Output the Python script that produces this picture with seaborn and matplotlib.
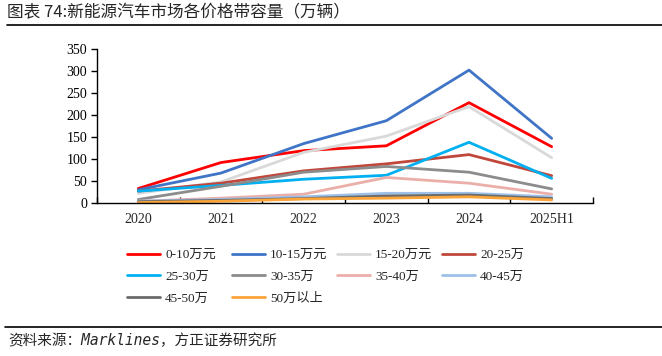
import pandas as pd
import seaborn as sns
import matplotlib.pyplot as plt
from matplotlib.lines import Line2D
from matplotlib.ticker import MultipleLocator, FixedLocator

# --- data (万辆) ---
years = ["2020", "2021", "2022", "2023", "2024", "2025H1"]
bands = ["0-10万元", "10-15万元", "15-20万元", "20-25万", "25-30万",
         "30-35万", "35-40万", "40-45万", "45-50万", "50万以上"]
p0_10 = [33, 92, 119, 130, 228, 128]
p10_15 = [30, 68, 135, 187, 302, 147]
p15_20 = [22, 48, 115, 152, 219, 103]
p20_25 = [27, 45, 73, 89, 110, 62]
p25_30 = [27, 40, 54, 63, 138, 56]
p30_35 = [8, 38, 70, 83, 70, 32]
p35_40 = [4, 11, 20, 58, 45, 20]
p40_45 = [4, 8, 14, 22, 22, 14]
p45_50 = [3, 6, 10, 16, 18, 10]
p50_up = [1, 4, 9, 11, 14, 7]
colors = ["#FF0000", "#3F74C6", "#D9D9D9", "#C0473A", "#00B0F0",
          "#8C8C8C", "#EBAFAA", "#9DC0E8", "#6B6B6B", "#FAA43A"]

series = [p0_10, p10_15, p15_20, p20_25, p25_30, p30_35, p35_40, p40_45, p45_50, p50_up]
df = pd.DataFrame({b: v for b, v in zip(bands, series)}, index=years)
df.index.name = "year"
long_df = df.reset_index().melt(id_vars="year", var_name="band", value_name="value")

sns.set_style("ticks")
plt.rcParams['font.family'] = ['Liberation Serif', 'Noto Sans CJK SC']

fig = plt.figure(figsize=(6.62, 3.56), dpi=100)
ax = fig.add_axes([97 / 662, 1 - 203 / 356, 496 / 662, 154 / 356])

sns.lineplot(data=long_df, x="year", y="value", hue="band", hue_order=bands,
             palette=colors, linewidth=2.0, sort=False, ax=ax)

ax.set_xlim(-0.5, 5.5)
ax.set_ylim(0, 350)
ax.yaxis.set_major_locator(MultipleLocator(50))
ax.set_xlabel("")
ax.set_ylabel("")
for s in ["top", "right"]:
    ax.spines[s].set_visible(False)
for s in ["left", "bottom"]:
    ax.spines[s].set_color("black")
    ax.spines[s].set_linewidth(1.0)
ax.tick_params(axis="y", direction="out", length=4, width=1, colors="black",
               labelsize=10, pad=3)
ax.tick_params(axis="x", which="major", length=0, labelsize=10, pad=7)
ax.xaxis.set_minor_locator(FixedLocator([i - 0.5 for i in range(7)]))
ax.tick_params(axis="x", which="minor", direction="in", length=4, width=1, color="black")

# legend: 4 columns laid out row-wise like the original
handles, labels = ax.get_legend_handles_labels()
ax.get_legend().remove()
col_x = [127, 232, 337, 442]
for c in range(4):
    fig.legend(handles[c::4], labels[c::4], loc="upper left",
               bbox_to_anchor=(col_x[c] / 662, 1 - 249 / 356),
               frameon=False, fontsize=9.5, handlelength=2.5, handletextpad=0.38,
               labelspacing=0.72, borderpad=0, borderaxespad=0)

# title, rules and source note
fig.text(7 / 662, 1 - 13 / 356, "图表 74:新能源汽车市场各价格带容量（万辆）",
         family=['Noto Sans CJK SC', 'DejaVu Sans'], fontsize=12, va="center", ha="left")
fig.add_artist(Line2D([7 / 662, 1], [1 - 25 / 356] * 2, color="black", lw=1.2))
fig.add_artist(Line2D([5 / 662, 1], [1 - 327 / 356] * 2, color="black", lw=1.2))
fig.text(8 / 662, 1 - 341 / 356, "资料来源：Marklines，方正证券研究所",
         family=['DejaVu Sans Mono', 'Noto Sans CJK SC'], style="italic",
         fontsize=10.5, va="center", ha="left")

fig.savefig("out.png", dpi=100)
